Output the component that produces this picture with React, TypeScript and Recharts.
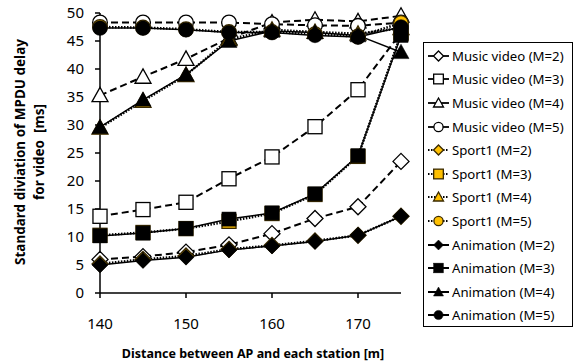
import React from "react";
import { LineChart, Line, XAxis, YAxis } from "recharts";

const distances = [140, 145, 150, 155, 160, 165, 170, 175];
const musicM2 = [6.0, 6.5, 7.3, 8.6, 10.6, 13.3, 15.4, 23.5];
const musicM3 = [13.7, 14.9, 16.2, 20.4, 24.3, 29.7, 36.3, 46.5];
const musicM4 = [35.3, 38.6, 41.8, 45.5, 48.3, 48.8, 48.5, 49.5];
const musicM5 = [48.3, 48.3, 48.3, 48.3, 48.0, 47.8, 47.7, 48.3];
const sportM2 = [5.2, 6.0, 6.6, 7.8, 8.5, 9.3, 10.3, 13.7];
const sportM3 = [10.3, 10.8, 11.5, 12.8, 14.2, 17.6, 24.4, 46.3];
const sportM4 = [29.5, 34.3, 38.9, 45.3, 47.0, 46.6, 46.3, 47.3];
const sportM5 = [47.5, 47.4, 47.1, 46.6, 46.6, 46.2, 45.8, 48.2];
const animM2 = [5.0, 5.8, 6.4, 7.7, 8.4, 9.2, 10.3, 13.7];
const animM3 = [10.2, 10.7, 11.5, 13.2, 14.3, 17.7, 24.5, 46.0];
const animM4 = [29.6, 34.5, 39.0, 45.0, 46.8, 46.5, 46.0, 43.0];
const animM5 = [47.3, 47.3, 47.0, 46.5, 46.5, 46.0, 45.7, 47.5];
const xTicks = [140, 150, 160, 170];
const yTicks = [0, 5, 10, 15, 20, 25, 30, 35, 40, 45, 50];

type Shape = "diamond" | "square" | "triangle" | "circle";

interface SeriesDef {
  key: string;
  name: string;
  values: number[];
  shape: Shape;
  fill: string;
  style: "dash" | "dot" | "solid";
}

const series: SeriesDef[] = [
  { key: "mv2", name: "Music video (M=2)", values: musicM2, shape: "diamond", fill: "#ffffff", style: "dash" },
  { key: "mv3", name: "Music video (M=3)", values: musicM3, shape: "square", fill: "#ffffff", style: "dash" },
  { key: "mv4", name: "Music video (M=4)", values: musicM4, shape: "triangle", fill: "#ffffff", style: "dash" },
  { key: "mv5", name: "Music video (M=5)", values: musicM5, shape: "circle", fill: "#ffffff", style: "dash" },
  { key: "sp2", name: "Sport1 (M=2)", values: sportM2, shape: "diamond", fill: "#FFC000", style: "dot" },
  { key: "sp3", name: "Sport1 (M=3)", values: sportM3, shape: "square", fill: "#FFC000", style: "dot" },
  { key: "sp4", name: "Sport1 (M=4)", values: sportM4, shape: "triangle", fill: "#FFC000", style: "dot" },
  { key: "sp5", name: "Sport1 (M=5)", values: sportM5, shape: "circle", fill: "#FFC000", style: "dot" },
  { key: "an2", name: "Animation (M=2)", values: animM2, shape: "diamond", fill: "#000000", style: "solid" },
  { key: "an3", name: "Animation (M=3)", values: animM3, shape: "square", fill: "#000000", style: "solid" },
  { key: "an4", name: "Animation (M=4)", values: animM4, shape: "triangle", fill: "#000000", style: "solid" },
  { key: "an5", name: "Animation (M=5)", values: animM5, shape: "circle", fill: "#000000", style: "solid" },
];

const data = distances.map((d, i) => {
  const row: Record<string, number> = { x: d };
  series.forEach((s) => {
    row[s.key] = s.values[i];
  });
  return row;
});

function Marker({ cx, cy, shape, fill, size }: { cx: number; cy: number; shape: Shape; fill: string; size: number }) {
  const h = size / 2;
  const stroke = fill === "#FFC000" ? "#3a2a00" : "#000000";
  const sw = fill === "#000000" ? 0.5 : 1.3;
  if (shape === "diamond") {
    return <polygon points={`${cx},${cy - h} ${cx + h},${cy} ${cx},${cy + h} ${cx - h},${cy}`} fill={fill} stroke={stroke} strokeWidth={sw} />;
  }
  if (shape === "square") {
    const s = h * 0.88;
    return <rect x={cx - s} y={cy - s} width={2 * s} height={2 * s} fill={fill} stroke={stroke} strokeWidth={sw} />;
  }
  if (shape === "triangle") {
    return <polygon points={`${cx},${cy - h} ${cx + h},${cy + h * 0.8} ${cx - h},${cy + h * 0.8}`} fill={fill} stroke={stroke} strokeWidth={sw} />;
  }
  return <circle cx={cx} cy={cy} r={h * 0.92} fill={fill} stroke={stroke} strokeWidth={sw} />;
}

function dashFor(style: string) {
  if (style === "dash") return "7 4";
  if (style === "dot") return "1.5 1.5";
  return undefined;
}

function widthFor(style: string) {
  if (style === "dash") return 2;
  if (style === "dot") return 2.5;
  return 1.5;
}

const font = "'Noto Sans', sans-serif";

function LegendBox() {
  return (
    <div
      style={{
        position: "absolute",
        left: 423,
        top: 42,
        border: "1.5px solid #000",
        background: "#fff",
        boxSizing: "border-box",
        width: 150,
        height: 285,
        padding: "1px 0 0 3px",
        fontFamily: font,
        fontSize: 13.2,
        color: "#000",
      }}
    >
      {series.map((s) => (
        <div key={s.key} style={{ display: "flex", alignItems: "center", height: 23.6 }}>
          <svg width={24} height={16} style={{ flex: "none" }}>
            <line x1={1} y1={8} x2={22} y2={8} stroke="#000" strokeWidth={s.style === "solid" ? 2 : 1.8} strokeDasharray={s.style === "dot" ? "1.5 1.5" : undefined} />
            <Marker cx={11.5} cy={8} shape={s.shape} fill={s.fill} size={s.shape === "square" ? 11 : 10} />
          </svg>
          <span style={{ marginLeft: 1, whiteSpace: "nowrap" }}>{s.name}</span>
        </div>
      ))}
    </div>
  );
}

export default function App() {
  return (
    <div style={{ position: "absolute", left: 0, top: 0, width: 579, height: 364, background: "#fff" }}>
      <LineChart width={579} height={364} data={data} margin={{ top: 13, right: 178, bottom: 41, left: 40 }}>
        <XAxis
          dataKey="x"
          type="number"
          domain={[140, 175]}
          ticks={xTicks}
          tick={{ fill: "#000", fontSize: 15, fontFamily: font }}
          tickLine={{ stroke: "#000", strokeWidth: 1.5 }}
          tickSize={5}
          tickMargin={20}
          axisLine={{ stroke: "#000", strokeWidth: 1.5 }}
          height={30}
        />
        <YAxis
          type="number"
          domain={[0, 50]}
          ticks={yTicks}
          tick={{ fill: "#000", fontSize: 15, fontFamily: font }}
          tickLine={{ stroke: "#000", strokeWidth: 1.5 }}
          tickSize={5}
          tickMargin={11}
          axisLine={{ stroke: "#000", strokeWidth: 1.5 }}
          width={60}
        />
        {series.map((s) => (
          <Line
            key={s.key}
            dataKey={s.key}
            name={s.name}
            type="linear"
            stroke="#000"
            strokeWidth={widthFor(s.style)}
            strokeDasharray={dashFor(s.style)}
            isAnimationActive={false}
            dot={(p: any) => (
              <Marker key={`${s.key}-${p.index}`} cx={p.cx} cy={p.cy} shape={s.shape} fill={s.fill} size={16} />
            )}
            activeDot={false}
          />
        ))}
      </LineChart>
      <LegendBox />
      <svg width={579} height={364} style={{ position: "absolute", left: 0, top: 0, pointerEvents: "none" }}>
        <text transform="translate(25,152) rotate(-90)" textAnchor="middle" fontFamily={font} fontWeight="bold" fontSize={13.5} fill="#000">
          Standard diviation of MPDU delay
        </text>
        <text transform="translate(44,152) rotate(-90)" textAnchor="middle" fontFamily={font} fontWeight="bold" fontSize={13.5} fill="#000" xmlSpace="preserve">
          for video  [ms]
        </text>
        <text x={253} y={358} textAnchor="middle" fontFamily={font} fontWeight="bold" fontSize={12.5} fill="#000">
          Distance between AP and each station [m]
        </text>
      </svg>
    </div>
  );
}
